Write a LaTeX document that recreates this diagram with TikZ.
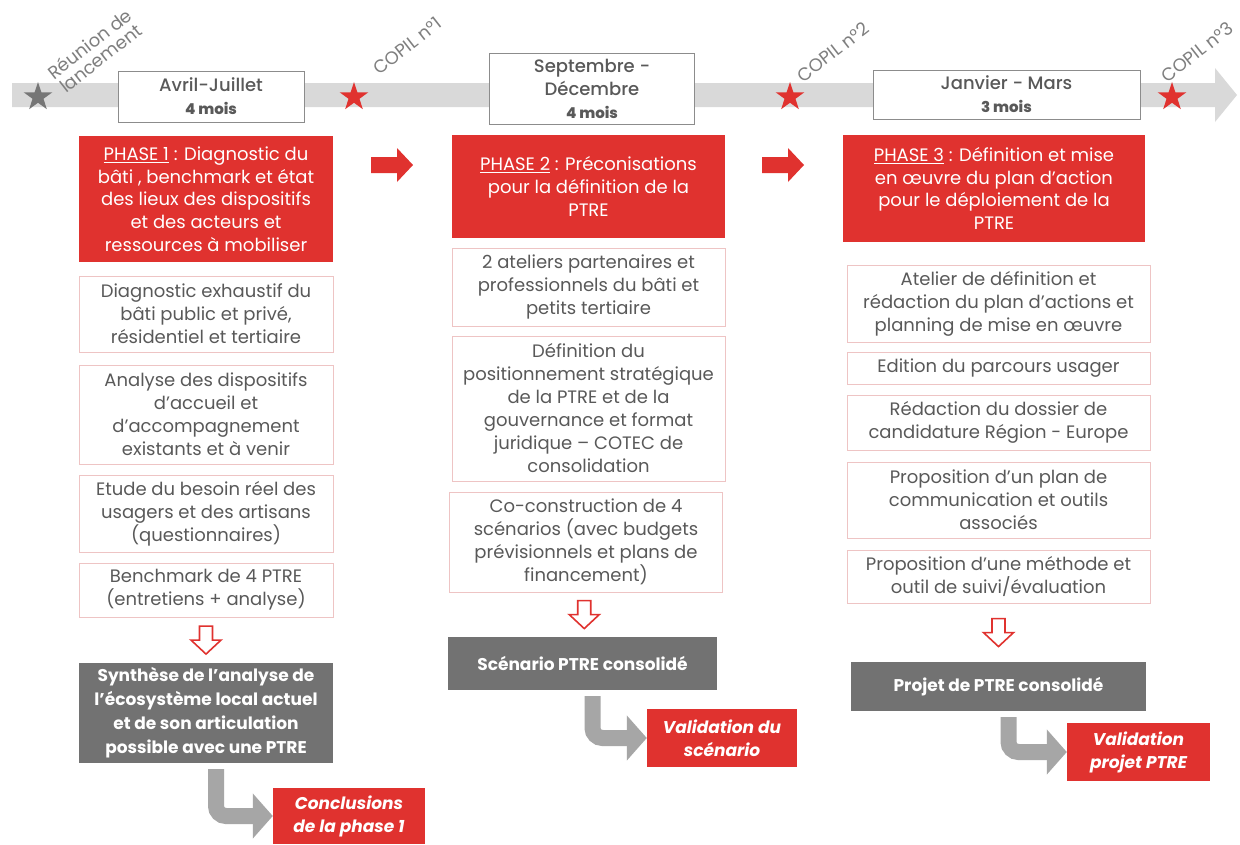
\documentclass[tikz,border=0pt]{standalone}
\usepackage{fontspec}
\setmainfont{Poppins}
\IfFontExistsTF{Poppins Medium}{\newfontfamily\moyen{Poppins Medium}}{\newcommand\moyen{\bfseries}}
\usepackage{tikz}
\usetikzlibrary{positioning, arrows.meta, shapes.geometric, calc}
\definecolor{rougeptre}{RGB}{224,50,47}
\definecolor{grisfonce}{RGB}{114,114,114}
\definecolor{bandegris}{RGB}{217,217,217}
\definecolor{flechegris}{RGB}{166,166,166}
\definecolor{textegris}{RGB}{89,89,89}
\definecolor{bordrose}{RGB}{238,196,196}
\definecolor{bordgris}{RGB}{140,140,140}
\definecolor{etoilegris}{RGB}{118,118,118}
\definecolor{etiqgris}{RGB}{127,127,127}

\tikzset{
  phase/.style={fill=rougeptre, text=white, align=center, inner sep=0pt, font=\fontsize{18}{22.7}\selectfont},
  tache/.style={draw=bordrose, line width=0.7pt, fill=white, text=textegris, align=center, inner sep=0pt, font=\fontsize{18}{23}\selectfont},
  synthese/.style={fill=grisfonce, text=white, align=center, inner sep=0pt, font=\bfseries\fontsize{17}{24}\selectfont},
  validation/.style={fill=rougeptre, text=white, align=center, inner sep=0pt, font=\bfseries\itshape\fontsize{17}{23}\selectfont},
  periode/.style={draw=bordgris, line width=0.8pt, fill=white, text=textegris, align=center, inner sep=0pt, font=\moyen\fontsize{18}{23}\selectfont},
  jalon/.style={star, star points=5, star point ratio=2.6, minimum size=30pt, inner sep=0pt},
  etiquette/.style={text=etiqgris, rotate=38, align=center, font=\fontsize{18}{18}\selectfont},
  coude/.style={draw=flechegris, line width=16pt, rounded corners=10pt, -{Triangle[width=44pt,length=20pt]}, shorten <=6pt},
  creuse/.style={draw=rougeptre, fill=white, line width=1.6pt},
  pics/flecherouge/.style={code={\fill[rougeptre] (-21,-8) -- (5,-8) -- (5,-17) -- (21,0) -- (5,17) -- (5,8) -- (-21,8) -- cycle;}},
  pics/flechecreuse/.style={code={\draw[creuse] (-6.5,-14) -- (6.5,-14) -- (6.5,0) -- (15,0) -- (0,14) -- (-15,0) -- (-6.5,0) -- cycle;}}
}
\newcommand{\mois}[1]{{\bfseries\fontsize{15}{19}\selectfont #1}}

\begin{document}
\begin{tikzpicture}[x=1pt, y=-1pt]
    \useasboundingbox (0,0) rectangle (1240,844);
    \fill[white] (0,0) rectangle (1240,844);

    % === FRISE ===
    \fill[bandegris] (12,83) -- (1215,83) -- (1215,68) -- (1237,95) -- (1215,122) -- (1215,107) -- (12,107) -- cycle;

    \node[jalon, fill=etoilegris] (lancement) at (38,97) {};
    \node[jalon, fill=rougeptre] (copil1) at (354,97) {};
    \node[jalon, fill=rougeptre] (copil2) at (790,97) {};
    \node[jalon, fill=rougeptre] (copil3) at (1172,97) {};

    \node[etiquette] (lblancement) at (95,51) {Réunion de\\lancement};
    \node[etiquette] (lblcopil1) at (407,46) {COPIL n°1};
    \node[etiquette] (lblcopil2) at (833,52) {COPIL n°2};
    \node[etiquette] (lblcopil3) at (1197,52) {COPIL n°3};

    % Periodes
    \node[periode, minimum width=186pt, minimum height=51pt] (per1) at (211,96.5) {Avril-Juillet\\\mois{4 mois}};
    \node[periode, minimum width=205pt, minimum height=71pt] (per2) at (592,88.5) {Septembre -\\Décembre\\\mois{4 mois}};
    \node[periode, minimum width=267pt, minimum height=49pt] (per3) at (1006.5,94.5) {Janvier - Mars\\\mois{3 mois}};

    % === PHASE 1 ===
    \node[phase, minimum width=254pt, minimum height=126pt] (phase1) at (206,199) {\underline{PHASE 1} : Diagnostic du\\bâti , benchmark et état\\des lieux des dispositifs\\et des acteurs et\\ressources à mobiliser};
    \node[tache, minimum width=254pt, minimum height=76pt] (c1t1) at (206,314) {Diagnostic exhaustif du\\bâti public et privé,\\résidentiel et tertiaire};
    \node[tache, minimum width=254pt, minimum height=99pt] (c1t2) at (206,414.5) {Analyse des dispositifs\\d’accueil et\\d’accompagnement\\existants et à venir};
    \node[tache, minimum width=254pt, minimum height=77pt] (c1t3) at (206,513.5) {Etude du besoin réel des\\usagers  et des artisans\\(questionnaires)};
    \node[tache, minimum width=254pt, minimum height=54pt] (c1t4) at (206,590) {Benchmark de 4 PTRE\\(entretiens + analyse)};
    \node[synthese, minimum width=254pt, minimum height=100pt] (synth1) at (206,713) {Synthèse de l’analyse de\\l’écosystème local actuel\\et de son articulation\\possible avec une PTRE};
    \node[validation, minimum width=152pt, minimum height=56pt] (concl1) at (349,816) {Conclusions\\de la phase 1};

    \pic at ($(c1t4.south)!0.5!(synth1.north)$) {flechecreuse};
    \draw[coude] ([xshift=10pt]synth1.south) |- (concl1.west);

    % Fleche vers phase 2
    \pic at (392,165) {flecherouge};

    % === PHASE 2 ===
    \node[phase, minimum width=273pt, minimum height=103pt] (phase2) at (588.5,186.5) {\underline{PHASE 2} : Préconisations\\pour la définition de la\\PTRE};
    \node[tache, minimum width=273pt, minimum height=78pt] (c2t1) at (588.5,287) {2 ateliers partenaires et\\professionnels du bâti et\\petits tertiaire};
    \node[tache, minimum width=273pt, minimum height=145pt] (c2t2) at (588.5,408.5) {Définition du\\positionnement stratégique\\de la PTRE et de la\\gouvernance et format\\juridique – COTEC de\\consolidation};
    \node[tache, minimum width=273pt, minimum height=100pt] (c2t3) at (586,542) {Co-construction de 4\\scénarios (avec budgets\\prévisionnels et plans de\\financement)};
    \node[synthese, minimum width=269pt, minimum height=53pt] (synth2) at (582.5,663.5) {Scénario PTRE consolidé};
    \node[validation, minimum width=150pt, minimum height=58pt] (valid2) at (722,738) {Validation du\\scénario};

    \pic at ($(c2t3.south)!0.5!(synth2.north)$) {flechecreuse};
    \draw[coude] ([xshift=10pt]synth2.south) |- (valid2.west);

    % Fleche vers phase 3
    \pic at (783,165) {flecherouge};

    % === PHASE 3 ===
    \node[phase, minimum width=302pt, minimum height=107pt] (phase3) at (994,188.5) {\underline{PHASE 3} :  Définition et mise\\en œuvre du plan d’action\\pour le déploiement de la\\PTRE};
    \node[tache, minimum width=303pt, minimum height=77pt] (c3t1) at (998.5,303.5) {Atelier de définition et\\rédaction du plan d’actions et\\planning de mise en œuvre};
    \node[tache, minimum width=303pt, minimum height=32pt] (c3t2) at (998.5,368) {Edition du parcours usager};
    \node[tache, minimum width=303pt, minimum height=55pt] (c3t3) at (998.5,422.5) {Rédaction du dossier de\\candidature Région - Europe};
    \node[tache, minimum width=303pt, minimum height=76pt] (c3t4) at (998.5,500) {Proposition d’un plan de\\communication et outils\\associés};
    \node[tache, minimum width=303pt, minimum height=53pt] (c3t5) at (998.5,576.5) {Proposition d’une méthode et\\outil de suivi/évaluation};
    \node[synthese, minimum width=295pt, minimum height=49pt] (synth3) at (998.5,686.5) {Projet de PTRE consolidé};
    \node[validation, minimum width=143pt, minimum height=58pt] (valid3) at (1138.5,752) {Validation\\projet PTRE};

    \pic at ($(c3t5.south)!0.5!(synth3.north)$) {flechecreuse};
    \draw[coude] ([xshift=10pt]synth3.south) |- (valid3.west);

\end{tikzpicture}
\end{document}
